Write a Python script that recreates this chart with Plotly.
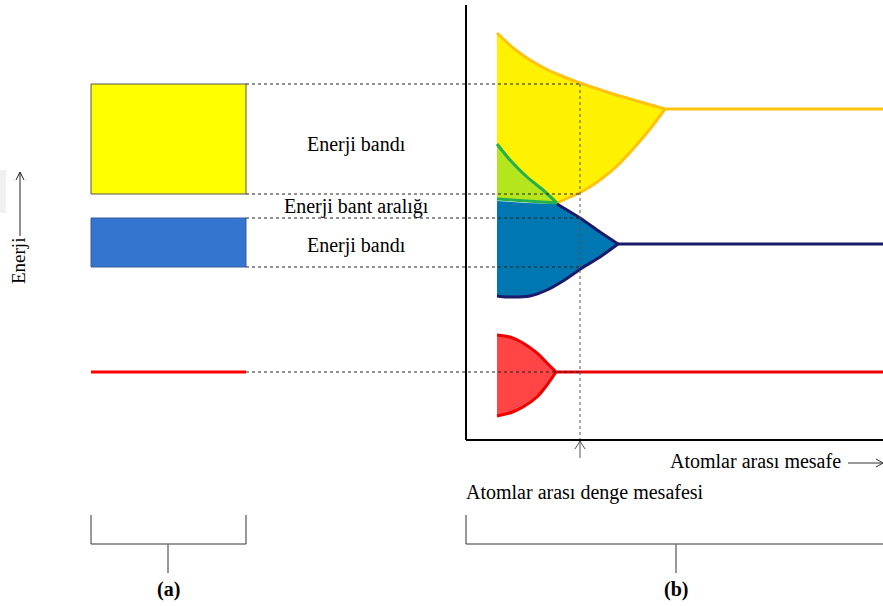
import plotly.graph_objects as go

# ---------------- data (diagram units: x = distance, y = energy level, screen-like) -------------
# left panel (a): isolated band levels
band_a_x = [91, 246]
upper_band_y = [84, 194]
lower_band_y = [218, 267]
core_level_y = 372

# panel (b): band edges vs interatomic distance
eq_x = 580
axis_x0, axis_x1 = 466, 883
axis_y_top, axis_y_bottom = 5, 440
flat_end_x = 883

yel_up_x = [497, 507, 517, 530, 547, 563, 580, 610, 637, 665]
yel_up_y = [33, 42.5, 51, 60, 69.5, 76.5, 83, 93, 101, 109]
yel_lo_x = [665, 650, 633, 617, 600, 583, 570, 557]
yel_lo_y = [109, 129, 149, 166, 180, 191, 197, 203]

grn_up_x = [497, 510, 527, 543, 557]
grn_up_y = [144, 160, 177, 190, 203]
grn_lo_x = [497, 527, 557]
grn_lo_y = [199, 201, 203]

blu_up_x = [497, 527, 557, 580, 600, 618]
blu_up_y = [201, 203, 204, 218, 232, 244]
blu_lo_x = [618, 600, 582, 563, 547, 530, 507, 497]
blu_lo_y = [244, 257, 268, 281, 290, 296, 297, 296]

red_up_x = [497, 510, 523, 537, 547, 556]
red_up_y = [335, 337, 343, 353, 363, 372]
red_lo_x = [556, 547, 537, 523, 510, 497]
red_lo_y = [372, 385, 397, 407, 413, 416]

labels = ["Enerji bandı", "Enerji bant aralığı", "Enerji bandı"]
label_y = [144, 206, 245]

FONT = "Times New Roman, Liberation Serif, DejaVu Serif, serif"

fig = go.Figure()

# ---- left panel rectangles
fig.add_shape(type="rect", x0=band_a_x[0], x1=band_a_x[1], y0=upper_band_y[0], y1=upper_band_y[1],
              fillcolor="#ffff00", line=dict(color="#555555", width=1), layer="above")
fig.add_shape(type="rect", x0=band_a_x[0], x1=band_a_x[1], y0=lower_band_y[0], y1=lower_band_y[1],
              fillcolor="#3375cf", line=dict(color="#3a5f9a", width=1), layer="above")
fig.add_shape(type="line", x0=band_a_x[0], x1=band_a_x[1], y0=core_level_y, y1=core_level_y,
              line=dict(color="#ff0000", width=3), layer="above")

# ---- fills panel (b)
def poly(xs, ys, color):
    fig.add_trace(go.Scatter(x=xs + [xs[0]], y=ys + [ys[0]], fill="toself", fillcolor=color,
                             mode="lines", line=dict(width=0, color=color), hoverinfo="skip",
                             showlegend=False))

poly(yel_up_x + yel_lo_x[1:] + [grn_lo_x[0]], yel_up_y + yel_lo_y[1:] + [grn_lo_y[0]], "#fff200")
poly(grn_up_x + grn_lo_x[::-1][1:], grn_up_y + grn_lo_y[::-1][1:], "#b5e61d")
poly(blu_up_x + blu_lo_x[1:], blu_up_y + blu_lo_y[1:], "#0077b1")
poly(red_up_x + red_lo_x[1:], red_up_y + red_lo_y[1:], "#ff4545")

def line(xs, ys, color, width=3, spline=True):
    fig.add_trace(go.Scatter(x=xs, y=ys, mode="lines",
                             line=dict(color=color, width=width,
                                       shape="spline" if spline else "linear", smoothing=0.8),
                             hoverinfo="skip", showlegend=False))

line(yel_up_x, yel_up_y, "#ffc20e")
line([yel_up_x[-1], flat_end_x], [yel_up_y[-1], yel_up_y[-1]], "#ffc20e", spline=False)
line(yel_lo_x, yel_lo_y, "#ffc20e")
line(grn_up_x, grn_up_y, "#22b14c")
line(grn_lo_x, grn_lo_y, "#22b14c")
line(blu_up_x[2:], blu_up_y[2:], "#1b1a6b")
line([blu_up_x[-1], flat_end_x], [blu_up_y[-1], blu_up_y[-1]], "#1b1a6b", spline=False)
line(blu_lo_x, blu_lo_y, "#1b1a6b")
line(red_up_x, red_up_y, "#ee0000")
line([red_up_x[-1], flat_end_x], [red_up_y[-1], red_up_y[-1]], "#ee0000", spline=False)
line(red_lo_x, red_lo_y, "#ee0000")

# ---- dashed guide lines
for yv in upper_band_y + lower_band_y + [core_level_y]:
    fig.add_shape(type="line", x0=band_a_x[1], x1=eq_x, y0=yv, y1=yv,
                  line=dict(color="#222222", width=1, dash="3px,3px"), layer="above")
fig.add_shape(type="line", x0=eq_x, x1=eq_x, y0=upper_band_y[0], y1=axis_y_bottom,
              line=dict(color="#555555", width=1, dash="3px,3px"), layer="above")

# ---- axes panel (b)
fig.add_shape(type="line", x0=axis_x0, x1=axis_x0, y0=axis_y_top, y1=axis_y_bottom,
              line=dict(color="black", width=2))
fig.add_shape(type="line", x0=axis_x0, x1=axis_x1, y0=axis_y_bottom, y1=axis_y_bottom,
              line=dict(color="black", width=2))

# equilibrium arrow
fig.add_shape(type="line", x0=eq_x, x1=eq_x, y0=458, y1=441, line=dict(color="#555555", width=1))
fig.add_shape(type="path", path=f"M {eq_x-5},{449} L {eq_x},{441} L {eq_x+5},{449}",
              line=dict(color="#555555", width=1))

# x-axis label arrow
fig.add_shape(type="line", x0=848, x1=882, y0=463, y1=463, line=dict(color="#333333", width=1))
fig.add_shape(type="path", path="M 876,459 L 883,463 L 876,467", line=dict(color="#333333", width=1))

# energy arrow (left)
fig.add_shape(type="rect", x0=0, x1=6, y0=170, y1=213, fillcolor="#f0f0f0", line=dict(width=0))
fig.add_shape(type="line", x0=20, x1=20, y0=236, y1=172, line=dict(color="#222222", width=1))
fig.add_shape(type="path", path="M 16,180 L 20,172 L 24,180", line=dict(color="#222222", width=1))

# brackets
fig.add_shape(type="path", path=f"M {band_a_x[0]},515 L {band_a_x[0]},544 L {band_a_x[1]},544 L {band_a_x[1]},515",
              line=dict(color="#333333", width=1))
fig.add_shape(type="path", path=f"M {axis_x0},515 L {axis_x0},544 L {axis_x1},544",
              line=dict(color="#333333", width=1))
for xm in [168, 676]:
    fig.add_shape(type="line", x0=xm, x1=xm, y0=544, y1=573, line=dict(color="#777777", width=1.5))

# ---- texts
ann = []
for t, yv in zip(labels, label_y):
    ann.append(dict(x=356, y=yv, text=t, showarrow=False, font=dict(family=FONT, size=20, color="black")))
ann.append(dict(x=18, y=261, text="Enerji", textangle=-90, showarrow=False,
                font=dict(family=FONT, size=19, color="black")))
ann.append(dict(x=843, y=461, text="Atomlar arası mesafe", xanchor="right", showarrow=False,
                font=dict(family=FONT, size=20, color="black")))
ann.append(dict(x=464, y=492, text="Atomlar arası denge mesafesi", xanchor="left", showarrow=False,
                font=dict(family=FONT, size=20, color="black")))
ann.append(dict(x=168, y=589, text="<b>(a)</b>", showarrow=False, font=dict(family=FONT, size=20, color="black")))
ann.append(dict(x=676, y=589, text="<b>(b)</b>", showarrow=False, font=dict(family=FONT, size=20, color="black")))

fig.update_layout(
    width=883, height=606, autosize=False,
    margin=dict(l=0, r=0, t=0, b=0),
    paper_bgcolor="white", plot_bgcolor="white",
    xaxis=dict(range=[0, 883], visible=False, fixedrange=True),
    yaxis=dict(range=[606, 0], visible=False, fixedrange=True),
    annotations=ann,
    showlegend=False,
)

fig.write_html("out.html", config={"displayModeBar": False},
               post_script="document.body.style.margin='0';document.body.style.overflow='hidden';")
